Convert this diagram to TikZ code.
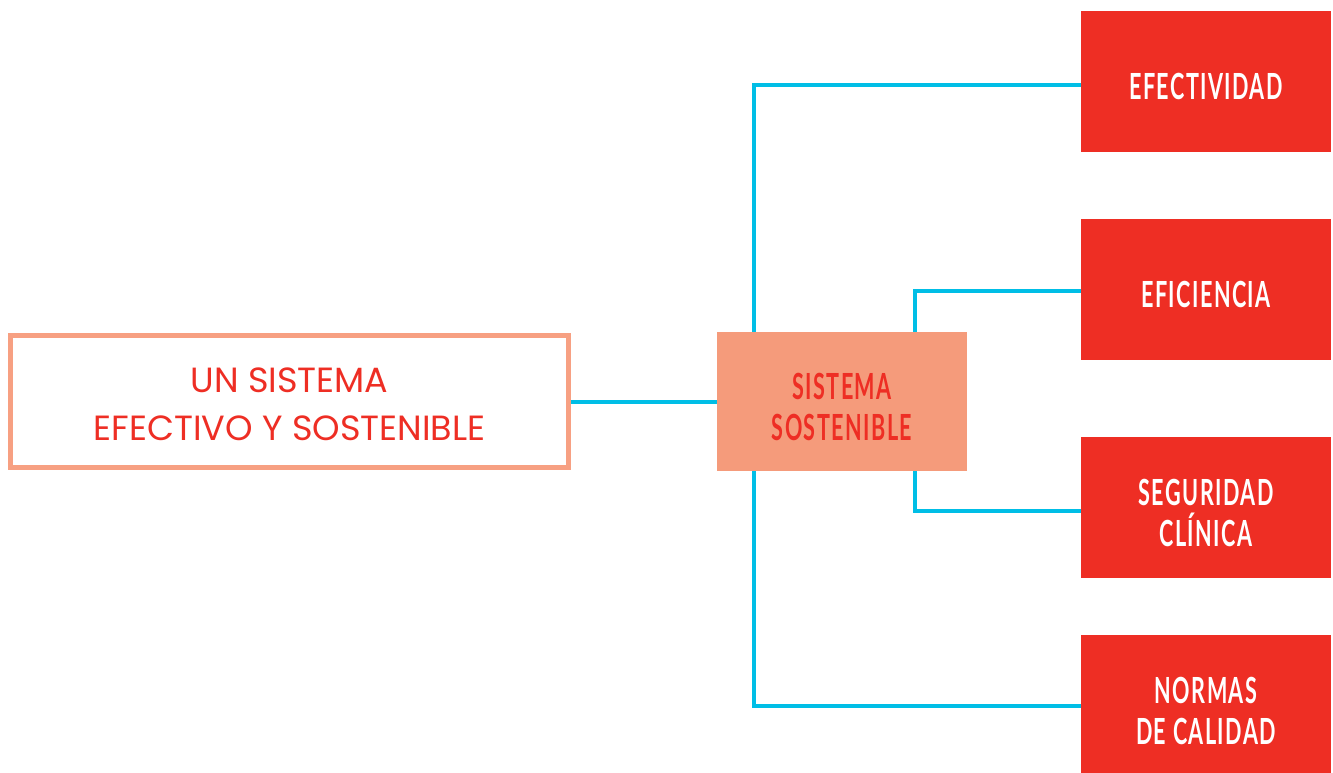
\documentclass[tikz,border=0pt]{standalone}
\usepackage{fontspec}
\setmainfont{Poppins}
\newfontfamily\geofont{Poppins}
\newfontfamily\condfont[FakeStretch=0.6, LetterSpace=4]{Lato}
\definecolor{linkcyan}{RGB}{0,190,230}
\definecolor{boxred}{RGB}{238,46,36}
\definecolor{salmon}{RGB}{245,155,123}
\definecolor{salmonline}{RGB}{247,160,130}
\tikzset{
  x=1pt, y=-1pt,
  outerbox/.style={draw=salmonline, line width=5pt, fill=white, minimum width=558pt, minimum height=132pt},
  outertext/.style={align=center, text=boxred, inner sep=0pt, font=\geofont\fontsize{35}{48}\selectfont},
  hubbox/.style={fill=salmon, minimum width=250pt, minimum height=139pt, inner sep=0pt},
  leafbox/.style={fill=boxred, minimum width=250pt, minimum height=141pt, inner sep=0pt},
  condtext/.style={align=center, inner sep=0pt, yshift=-5pt, font=\condfont\bfseries\fontsize{36}{41}\selectfont},
  hubtext/.style={condtext, text=boxred},
  leaftext/.style={condtext, text=white},
  link/.style={draw=linkcyan, line width=4pt}
}
\begin{document}
\begin{tikzpicture}
\useasboundingbox (0,0) rectangle (1333,772);
% main blocks
\node[outerbox] (whole) at (289.5,401.5) {};
\node[outertext, yshift=-3pt] (wholetxt) at (whole) {UN SISTEMA\\EFECTIVO Y SOSTENIBLE};
\node[hubbox] (hub) at (842,401.5) {};
\node[hubtext] (hubtxt) at (hub) {SISTEMA\\SOSTENIBLE};
% outcome blocks
\node[leafbox] (efe) at (1206,81.5) {};
\node[leaftext] (efetxt) at (efe) {EFECTIVIDAD};
\node[leafbox] (efi) at (1206,289.5) {};
\node[leaftext] (efitxt) at (efi) {EFICIENCIA};
\node[leafbox] (seg) at (1206,507.5) {};
\node[leaftext] (segtxt) at (seg) {SEGURIDAD\\CLÍNICA};
\node[leafbox] (nor) at (1206,705.5) {};
\node[leaftext] (nortxt) at (nor) {NORMAS\\DE CALIDAD};
% connectors
\draw[link] (whole.east) -- (hub.west);
\draw[link] ([xshift=-88pt]hub.north) |- ([yshift=-3.5pt]efe.west);
\draw[link] ([xshift=73pt]hub.north) |- ([yshift=-1.5pt]efi.west);
\draw[link] ([xshift=73pt]hub.south) |- ([yshift=-3.5pt]seg.west);
\draw[link] ([xshift=-88pt]hub.south) |- (nor.west);
\end{tikzpicture}
\end{document}
